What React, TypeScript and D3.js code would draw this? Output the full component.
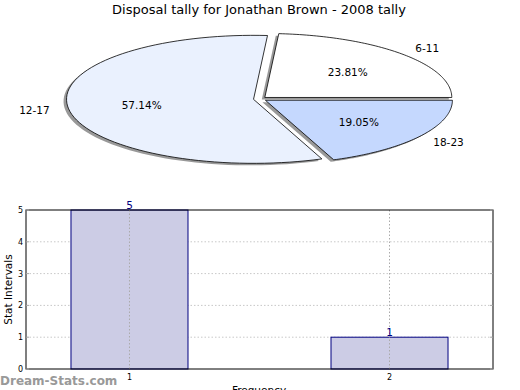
import React, { useRef, useEffect } from "react";
import * as d3 from "d3";

// pie data
const pieLabels = ["6-11", "12-17", "18-23"];
const pieValues = [5, 12, 4];
const pieColors = ["#ffffff", "#eaf1fe", "#c5d8fe"];

// bar data
const barCategories = ["1", "2"];
const barValues = [5, 1];
const yTicks = [0, 1, 2, 3, 4, 5];

const title = "Disposal tally for Jonathan Brown - 2008 tally";

function App() {
  const svgRef = useRef<SVGSVGElement>(null);

  useEffect(() => {
    const svg = d3.select(svgRef.current);
    svg.selectAll("*").remove();
    const font = "DejaVu Sans, sans-serif";

    // title
    svg
      .append("text")
      .attr("x", 259)
      .attr("y", 14)
      .attr("text-anchor", "middle")
      .attr("font-family", font)
      .attr("font-size", 13)
      .text(title);

    // ---------- pie (elliptical, exploded, shadowed) ----------
    const cx = 260;
    const cy = 99;
    const rx = 187;
    const ry = 64;
    const explode = 0.035;
    const total = d3.sum(pieValues);
    // angles measured counter-clockwise from 3 o'clock
    const angles: { a0: number; a1: number }[] = [];
    let acc = 0;
    pieValues.forEach((v) => {
      const a0 = (acc / total) * Math.PI * 2;
      acc += v;
      const a1 = (acc / total) * Math.PI * 2;
      angles.push({ a0, a1 });
    });

    const slicePath = (a0: number, a1: number, ox: number, oy: number) => {
      const steps = 80;
      const pts: [number, number][] = [[ox, oy]];
      for (let i = 0; i <= steps; i++) {
        const t = a0 + ((a1 - a0) * i) / steps;
        pts.push([ox + rx * Math.cos(t), oy - ry * Math.sin(t)]);
      }
      return d3.line()(pts) + "Z";
    };

    const pie = svg.append("g");
    const offsets = angles.map(({ a0, a1 }) => {
      const m = (a0 + a1) / 2;
      return [cx + explode * rx * Math.cos(m), cy - explode * ry * Math.sin(m)];
    });

    // shadows
    angles.forEach(({ a0, a1 }, i) => {
      pie
        .append("path")
        .attr("d", slicePath(a0, a1, offsets[i][0] - 3, offsets[i][1] + 2))
        .attr("fill", "#999999");
    });
    angles.forEach(({ a0, a1 }, i) => {
      pie
        .append("path")
        .attr("d", slicePath(a0, a1, offsets[i][0], offsets[i][1]))
        .attr("fill", pieColors[i])
        .attr("stroke", "#000")
        .attr("stroke-width", 0.8);
    });

    // percentage labels and category labels
    angles.forEach(({ a0, a1 }, i) => {
      const m = (a0 + a1) / 2;
      const pct = ((pieValues[i] / total) * 100).toFixed(2) + "%";
      pie
        .append("text")
        .attr("x", cx + 0.64 * rx * Math.cos(m))
        .attr("y", cy - 0.63 * ry * Math.sin(m) + 4)
        .attr("text-anchor", "middle")
        .attr("font-family", font)
        .attr("font-size", 10.5)
        .text(pct);
      pie
        .append("text")
        .attr("x", cx + 1.22 * rx * Math.cos(m))
        .attr("y", cy - 1.18 * ry * Math.sin(m) + 4)
        .attr("text-anchor", "middle")
        .attr("font-family", font)
        .attr("font-size", 10.5)
        .text(pieLabels[i]);
    });

    // ---------- bar chart ----------
    const left = 26;
    const right = 493;
    const top = 210;
    const bottom = 369;

    const x = d3.scalePoint().domain(barCategories).range([left, right]).padding(0.398);
    const y = d3.scaleLinear().domain([0, 5]).range([bottom, top]);
    const barW = x.step() * 0.45;

    const g = svg.append("g");

    // grid
    g.selectAll(".hgrid")
      .data(yTicks.slice(1, -1))
      .join("line")
      .attr("x1", left)
      .attr("x2", right)
      .attr("y1", (d) => y(d))
      .attr("y2", (d) => y(d))
      .attr("stroke", "#c8c8c8")
      .attr("stroke-dasharray", "1.5,2");

    // bars
    g.selectAll(".bar")
      .data(barValues)
      .join("rect")
      .attr("x", (d, i) => (x(barCategories[i]) as number) - barW / 2)
      .attr("y", (d) => y(d))
      .attr("width", barW)
      .attr("height", (d) => bottom - y(d))
      .attr("fill", "#cccce5")
      .attr("stroke", "#000080")
      .attr("stroke-width", 1);

    g.selectAll(".vgrid")
      .data(barCategories)
      .join("line")
      .attr("x1", (d) => x(d) as number)
      .attr("x2", (d) => x(d) as number)
      .attr("y1", top)
      .attr("y2", bottom)
      .attr("stroke", "#aaaaaa")
      .attr("stroke-dasharray", "1.5,2");

    // frame
    g.append("rect")
      .attr("x", left)
      .attr("y", top)
      .attr("width", right - left)
      .attr("height", bottom - top)
      .attr("fill", "none")
      .attr("stroke", "#000")
      .attr("stroke-width", 1);

    // y ticks (inside marks, both sides)
    yTicks.forEach((t) => {
      g.append("line")
        .attr("x1", left)
        .attr("x2", left + 3)
        .attr("y1", y(t))
        .attr("y2", y(t))
        .attr("stroke", "#aaa");
      g.append("line")
        .attr("x1", right - 3)
        .attr("x2", right)
        .attr("y1", y(t))
        .attr("y2", y(t))
        .attr("stroke", "#aaa");
      g.append("text")
        .attr("x", left - 3)
        .attr("y", y(t) + 3)
        .attr("text-anchor", "end")
        .attr("font-family", font)
        .attr("font-size", 8)
        .text(t);
    });

    // x tick labels
    barCategories.forEach((c) => {
      g.append("text")
        .attr("x", x(c) as number)
        .attr("y", bottom + 11)
        .attr("text-anchor", "middle")
        .attr("font-family", font)
        .attr("font-size", 8)
        .text(c);
    });

    // value labels
    barValues.forEach((v, i) => {
      g.append("text")
        .attr("x", x(barCategories[i]) as number)
        .attr("y", y(v) - 1)
        .attr("text-anchor", "middle")
        .attr("font-family", font)
        .attr("font-size", 10.5)
        .attr("fill", "#000080")
        .text(v);
    });

    // axis titles
    g.append("text")
      .attr("transform", `translate(12, ${(top + bottom) / 2}) rotate(-90)`)
      .attr("text-anchor", "middle")
      .attr("font-family", font)
      .attr("font-size", 10.5)
      .text("Stat Intervals");
    g.append("text")
      .attr("x", 259)
      .attr("y", 394)
      .attr("text-anchor", "middle")
      .attr("font-family", font)
      .attr("font-size", 10.5)
      .text("Frequency");

    // watermark
    svg
      .append("text")
      .attr("x", 0)
      .attr("y", 385)
      .attr("font-family", font)
      .attr("font-size", 12)
      .attr("font-weight", "bold")
      .attr("fill", "#999")
      .text("Dream-Stats.com");
  }, []);

  return (
    <svg
      ref={svgRef}
      width={520}
      height={390}
      style={{ position: "absolute", left: 0, top: 0, background: "#fff" }}
    />
  );
}

export default App;
